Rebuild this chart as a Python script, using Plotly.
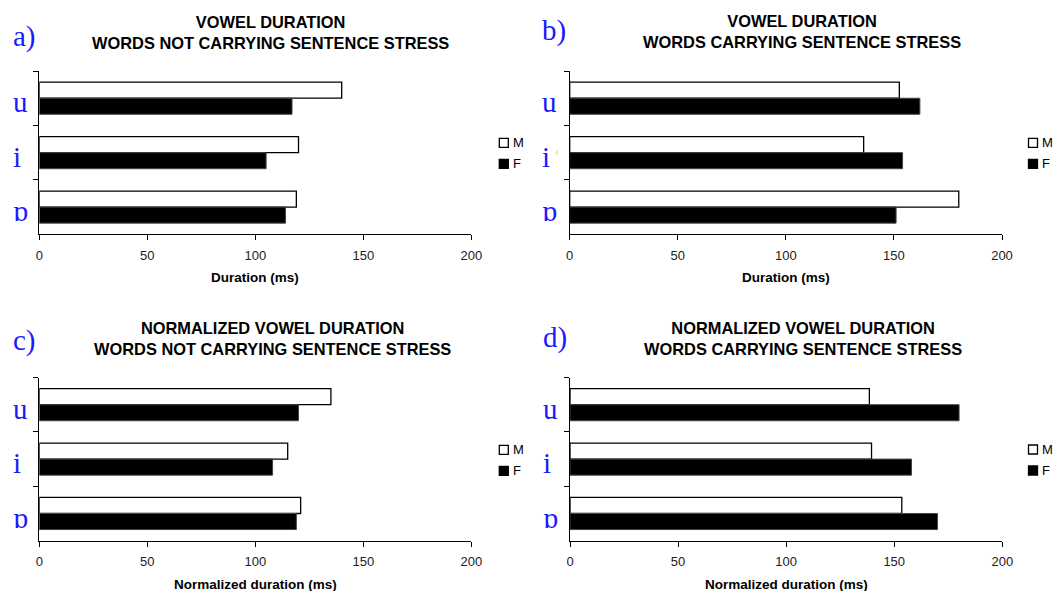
import plotly.graph_objects as go

W, H = 1053, 591

# ---------------- data ----------------
vowels = ["u", "i", "ɒ"]
series_names = ["M", "F"]

dur_unstressed_M = [140, 120, 119]
dur_unstressed_F = [117, 105, 114]
dur_stressed_M = [152.5, 136, 180]
dur_stressed_F = [162, 154, 151]
norm_unstressed_M = [135, 115, 121]
norm_unstressed_F = [120, 108, 119]
norm_stressed_M = [138.5, 139.5, 153.5]
norm_stressed_F = [180, 158, 170]

x_ticks = [0, 50, 100, 150, 200]

panel_letters = ["a)", "b)", "c)", "d)"]
panel_titles = [
    "VOWEL DURATION<br>WORDS NOT CARRYING SENTENCE STRESS",
    "VOWEL DURATION<br>WORDS CARRYING SENTENCE STRESS",
    "NORMALIZED VOWEL DURATION<br>WORDS NOT CARRYING SENTENCE STRESS",
    "NORMALIZED VOWEL DURATION<br>WORDS CARRYING SENTENCE STRESS",
]
x_titles = ["Duration (ms)", "Duration (ms)",
            "Normalized duration (ms)", "Normalized duration (ms)"]

panel_data = [
    (dur_unstressed_M, dur_unstressed_F),
    (dur_stressed_M, dur_stressed_F),
    (norm_unstressed_M, norm_unstressed_F),
    (norm_stressed_M, norm_stressed_F),
]

# ---------------- geometry (pixels) ----------------
plot_px = [
    (39.3, 471.3, 71.0, 234.3),
    (569.7, 1002.0, 71.0, 234.3),
    (39.3, 471.3, 377.5, 540.7),
    (570.0, 1002.3, 377.5, 540.7),
]
title_px = [(270, 32.5), (802, 31.7), (272, 338.8), (803, 338.5)]
letter_px = [(11.0, 36.5), (539.5, 30.5), (11.0, 340.5), (540.5, 337.5)]
vowel_left_px = [11.0, 539.5, 11.0, 540.5]
legend_px = [(499.3, 138.3), (1028.5, 138.3), (499.3, 445.3), (1028.5, 445.0)]
xtitle_y_px = [277.3, 277.3, 584.5, 584.5]

SANS = "Arial, Liberation Sans, Helvetica, sans-serif"
SERIF = "Times New Roman, Liberation Serif, DejaVu Serif, serif"
BLUE = "#1a1aff"


def px_x(x):
    return x / W


def px_y(y):
    return 1 - y / H


fig = go.Figure()
annotations = []
shapes = []

for k in range(4):
    sfx = "" if k == 0 else str(k + 1)
    xa, ya = "x" + sfx, "y" + sfx
    m_vals, f_vals = panel_data[k]
    fig.add_trace(go.Bar(
        y=vowels, x=m_vals, name="M", orientation="h",
        xaxis=xa, yaxis=ya, showlegend=False,
        marker=dict(color="white", line=dict(color="black", width=1.3)),
    ))
    fig.add_trace(go.Bar(
        y=vowels, x=f_vals, name="F", orientation="h",
        xaxis=xa, yaxis=ya, showlegend=False,
        marker=dict(color="black", line=dict(color="#444", width=1)),
    ))
    x0, x1, y0, y1 = plot_px[k]
    xkey = "xaxis" + sfx
    ykey = "yaxis" + sfx
    fig.update_layout(**{
        xkey: dict(
            domain=[px_x(x0), px_x(x1)], anchor=ya, range=[0, 200],
            tickmode="array", tickvals=x_ticks,
            ticks="outside", ticklen=5, tickwidth=1, tickcolor="black",
            ticklabelstandoff=4,
            showline=True, linecolor="black", linewidth=1,
            showgrid=False, zeroline=False, automargin=False,
            tickfont=dict(family=SANS, size=13, color="#222"),
            fixedrange=True,
        ),
        ykey: dict(
            domain=[px_y(y1), px_y(y0)], anchor=xa,
            type="category", categoryorder="array", categoryarray=vowels,
            range=[2.5, -0.5],
            ticks="outside", tickson="boundaries", ticklen=5, tickwidth=1,
            tickcolor="black", showticklabels=False,
            showline=True, linecolor="black", linewidth=1,
            showgrid=False, zeroline=False, automargin=False,
            fixedrange=True,
        ),
    })

    # title
    tx, ty = title_px[k]
    annotations.append(dict(
        text="<b>" + panel_titles[k].replace("<br>", "</b><br><b>") + "</b>",
        x=px_x(tx), y=px_y(ty), xref="paper", yref="paper",
        xanchor="center", yanchor="middle", showarrow=False,
        font=dict(family=SANS, size=16.4, color="black"),
    ))
    # panel letter
    lx, ly = letter_px[k]
    annotations.append(dict(
        text=panel_letters[k], x=px_x(lx), y=px_y(ly),
        xref="paper", yref="paper", xanchor="left", yanchor="middle",
        showarrow=False, font=dict(family=SERIF, size=29, color=BLUE),
    ))
    # vowel labels (left aligned)
    for v in vowels:
        annotations.append(dict(
            text=v, x=px_x(vowel_left_px[k]), y=v, xref="paper", yref=ya,
            xanchor="left", yanchor="middle", yshift=-4, showarrow=False,
            font=dict(family=SERIF, size=29, color=BLUE),
        ))
    # x-axis title
    annotations.append(dict(
        text="<b>" + x_titles[k] + "</b>",
        x=px_x((x0 + x1) / 2), y=px_y(xtitle_y_px[k]),
        xref="paper", yref="paper", xanchor="center", yanchor="middle",
        showarrow=False, font=dict(family=SANS, size=13.5, color="black"),
    ))
    # legend (M, F)
    sx, sy = legend_px[k]
    for j, (nm, fill) in enumerate(zip(series_names, ["white", "black"])):
        top = sy + 21 * j
        shapes.append(dict(
            type="rect", xref="paper", yref="paper",
            x0=px_x(sx), x1=px_x(sx + 9), y0=px_y(top + 9), y1=px_y(top),
            fillcolor=fill, line=dict(color="black", width=1.3),
        ))
        annotations.append(dict(
            text=nm, x=px_x(sx + 11.5), y=px_y(top + 4.5),
            xref="paper", yref="paper", xanchor="left", yanchor="middle",
            showarrow=False, font=dict(family=SANS, size=13, color="black"),
        ))

# small grey artefact next to the "i" in panel b
annotations.append(dict(
    text="i", x=px_x(556.7), y=px_y(152), xref="paper", yref="paper",
    xanchor="center", yanchor="middle", showarrow=False,
    font=dict(family=SANS, size=8, color="#bbb"),
))

fig.update_layout(
    width=W, height=H,
    margin=dict(l=0, r=0, t=0, b=0),
    paper_bgcolor="white", plot_bgcolor="white",
    barmode="group", bargap=0.41, bargroupgap=0,
    showlegend=False,
    annotations=annotations, shapes=shapes,
)

fig.write_html(
    "out.html",
    config={"displayModeBar": False},
    post_script=(
        "document.body.style.margin='0';"
        "document.documentElement.style.overflow='hidden';"
        "document.body.style.overflow='hidden';"
    ),
)
